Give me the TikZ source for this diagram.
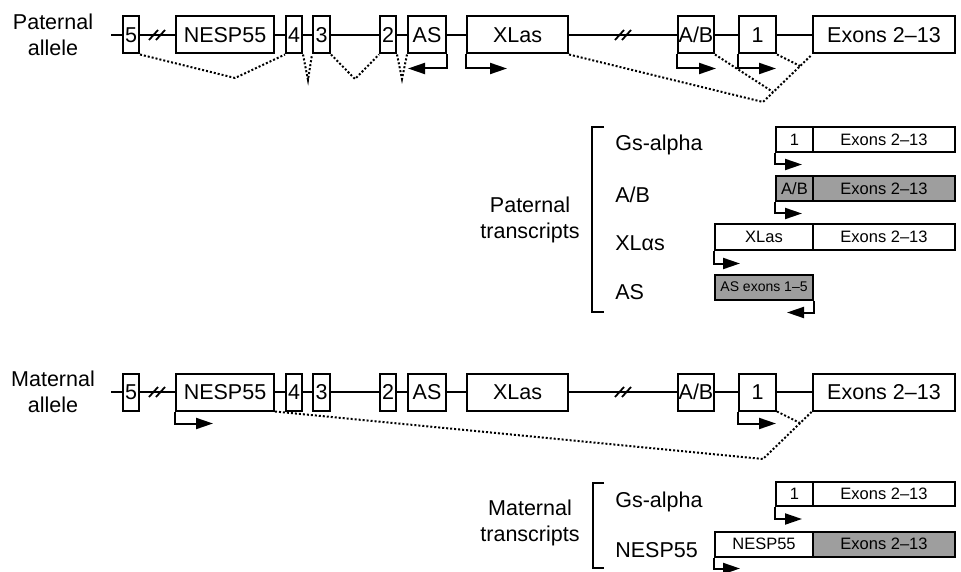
\documentclass[tikz,border=0pt]{standalone}
\usepackage{fontspec}
\setmainfont{Liberation Sans}
\usetikzlibrary{arrows.meta}
\begin{document}
\begin{tikzpicture}[x=1pt,y=-1pt,line width=2pt,
  exon/.style={draw,inner sep=0pt,minimum height=37pt,font=\fontsize{21.5}{21.5}\selectfont},
  bar/.style={draw,inner sep=0pt,minimum height=25pt,font=\fontsize{16.5}{16.5}\selectfont},
  graybar/.style={bar,fill=black!38},
  label/.style={align=center,font=\fontsize{21.5}{26}\selectfont},
  tlabel/.style={anchor=west,font=\fontsize{21.5}{21.5}\selectfont},
  splice/.style={dotted,line width=2pt},
  tss/.style={-{Triangle[length=17pt,width=11pt]}}]
\useasboundingbox (0,0) rectangle (961,572);
% paternal allele
\node[label] (patlab) at (53,35) {Paternal\\allele};
\coordinate (ps) at (111,35);
\node[exon,minimum width=16pt] (p5) at (131,35) {5};
\node[exon,minimum width=98pt] (pN) at (225,35) {NESP55};
\node[exon,minimum width=16pt] (p4) at (294,35) {4};
\node[exon,minimum width=17pt] (p3) at (321.5,35) {3};
\node[exon,minimum width=16pt] (p2) at (388,35) {2};
\node[exon,minimum width=38pt] (pAS) at (427,35) {AS};
\node[exon,minimum width=101pt] (pX) at (517.5,35) {XLas};
\node[exon,minimum width=36pt] (pAB) at (696,35) {A/B};
\node[exon,minimum width=37pt] (p1) at (757.5,35) {1};
\node[exon,minimum width=142pt] (pE) at (884,35) {Exons 2–13};
\draw (ps) -- (p5) -- (pN) -- (p4) -- (p3) -- (p2) -- (pAS) -- (pX) -- (pAB) -- (p1) -- (pE);
\coordinate (pb1) at (157,35);
\coordinate (pb2) at (623,35);
\coordinate (sp1) at (235,78);
\coordinate (sp2) at (308,80);
\coordinate (sp3) at (355,79);
\coordinate (sp4) at (402,79);
\coordinate (sp5) at (763,102);
\coordinate (sp6) at (773,92);
\coordinate (sp7) at (800,66);
\draw[splice] (p5.south east) -- (sp1) -- (p4.south west);
\draw[splice] (p4.south east) -- (sp2) -- (p3.south west);
\draw[splice] (p3.south east) -- (sp3) -- (p2.south west);
\draw[splice] (p2.south east) -- (sp4) -- (pAS.south west);
\draw[splice] (pX.south east) -- (sp5) -- (pE.south west);
\draw[splice] (pAB.south east) -- (sp6);
\draw[splice] (p1.south east) -- (sp7);
\draw[tss] (pAS.south east) -- ++(0,14) -- ++(-39,0);
\draw[tss] (pX.south west) -- ++(0,14) -- ++(41,0);
\draw[tss] (pAB.south west) -- ++(0,14) -- ++(39,0);
\draw[tss] (p1.south west) -- ++(0,14) -- ++(38,0);
% paternal transcripts
\draw (604,127) -- (592,127) -- (592,312) -- (604,312);
\node[label] (pattr) at (530,219.5) {Paternal\\transcripts};
\node[tlabel] (tlg) at (611,145) {Gs-alpha};
\node[tlabel] (tlab) at (611,195) {A/B};
\node[tlabel] (tlx) at (611,243) {XLαs};
\node[tlabel] (tlas) at (611,292) {AS};
\node[bar,minimum width=37pt] (g1) at (794.5,140) {1};
\node[bar,minimum width=142pt] (gE) at (884,140) {Exons 2–13};
\node[graybar,minimum width=37pt] (a1) at (794.5,189) {A/B};
\node[graybar,minimum width=142pt] (aE) at (884,189) {Exons 2–13};
\node[bar,minimum width=98pt] (x1) at (764,237) {XLas};
\node[bar,minimum width=142pt] (xE) at (884,237) {Exons 2–13};
\node[graybar,minimum width=98pt,font=\fontsize{14}{14}\selectfont] (as1) at (764,287) {AS exons 1–5};
\draw[tss] (g1.south west) -- ++(0,11) -- ++(27,0);
\draw[tss] (a1.south west) -- ++(0,11) -- ++(27,0);
\draw[tss] (x1.south west) -- ++(0,13) -- ++(26,0);
\draw[tss] (as1.south east) -- ++(0,12) -- ++(-27,0);
% maternal allele
\node[label] (matlab) at (53,392) {Maternal\\allele};
\coordinate (ms) at (111,392);
\node[exon,minimum width=16pt] (m5) at (131,392) {5};
\node[exon,minimum width=98pt] (mN) at (225,392) {NESP55};
\node[exon,minimum width=16pt] (m4) at (294,392) {4};
\node[exon,minimum width=17pt] (m3) at (321.5,392) {3};
\node[exon,minimum width=16pt] (m2) at (388,392) {2};
\node[exon,minimum width=38pt] (mAS) at (427,392) {AS};
\node[exon,minimum width=101pt] (mX) at (517.5,392) {XLas};
\node[exon,minimum width=36pt] (mAB) at (696,392) {A/B};
\node[exon,minimum width=37pt] (m1) at (757.5,392) {1};
\node[exon,minimum width=142pt] (mE) at (884,392) {Exons 2–13};
\draw (ms) -- (m5) -- (mN) -- (m4) -- (m3) -- (m2) -- (mAS) -- (mX) -- (mAB) -- (m1) -- (mE);
\coordinate (mb1) at (157,392);
\coordinate (mb2) at (623,392);
\coordinate (sm1) at (763,459);
\coordinate (sm2) at (800,423);
\draw[splice] (mN.south east) -- (sm1) -- (mE.south west);
\draw[splice] (m1.south east) -- (sm2);
\draw[tss] (mN.south west) -- ++(0,12) -- ++(38,0);
\draw[tss] (m1.south west) -- ++(0,12) -- ++(38,0);
\foreach \c in {pb1,pb2,mb1,mb2}
  \draw[line width=1.8pt] ([shift={(-8,5)}]\c) -- ++(9,-10) ([shift={(-1,5)}]\c) -- ++(9,-10);
% maternal transcripts
\draw (604,483) -- (593,483) -- (593,568) -- (604,568);
\node[label] (mattr) at (530,523) {Maternal\\transcripts};
\node[tlabel] (mlg) at (611,502) {Gs-alpha};
\node[tlabel] (mln) at (611,550) {NESP55};
\node[bar,minimum width=37pt,minimum height=24pt] (mg1) at (794.5,494) {1};
\node[bar,minimum width=142pt,minimum height=24pt] (mgE) at (884,494) {Exons 2–13};
\node[bar,minimum width=98pt] (mn1) at (764,544) {NESP55};
\node[graybar,minimum width=142pt] (mnE) at (884,544) {Exons 2–13};
\draw[tss] (mg1.south west) -- ++(0,12) -- ++(27,0);
\draw[tss] (mn1.south west) -- ++(0,11) -- ++(26,0);
\end{tikzpicture}
\end{document}
